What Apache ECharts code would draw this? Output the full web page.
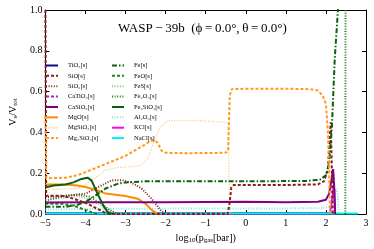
<!DOCTYPE html>
<html><head><meta charset="utf-8">
<script src="https://cdn.jsdelivr.net/npm/echarts@6/dist/echarts.min.js"></script>
<style>html,body{margin:0;padding:0;background:#fff}#c{width:374px;height:249px}</style>
</head><body><div id="c"></div>
<script>
// ---- data (x = log10 p_gas [bar], y = V_s/V_tot) ----
const xTicks = [-5,-4,-3,-2,-1,0,1,2,3];
const yTicks = [0.0,0.2,0.4,0.6,0.8,1.0];
const title = 'WASP\u2009\u2212\u200939b  (\u03d5\u2009=\u20090.0°,\u2009\u03b8\u2009=\u20090.0°)';

const TiO2 = [[-5,0.003],[2.2,0.003],[2.24,0]];
const SiO = [[-5,1.0],[-4.98,0.09],[-4.6,0.09],[-4.3,0.075],[-4,0.055],[-3.7,0.025],[-3.5,0.005],[-3.4,0],[-0.45,0],[-0.4,0.06],[-0.36,0.13],[-0.3,0.142],[1.0,0.142],[1.8,0.145],[1.95,0.16],[2.05,0.22],[2.12,0.45],[2.15,0.2],[2.17,0]];
const SiO2 = [[-5,0.083],[-4.5,0.088],[-4,0.1],[-3.6,0.14],[-3.35,0.165],[-3.1,0.166],[-2.87,0.155],[-2.6,0.125],[-2.35,0.075],[-2.1,0.012],[-2.0,0]];
const CaTiO3 = [[-5,0.001],[2.2,0.001],[2.22,0]];
const CaSiO3 = [[-5,0.056],[-4,0.057],[-2,0.058],[0,0.06],[1,0.058],[1.8,0.06],[2.0,0.07],[2.08,0.1],[2.14,0.17],[2.18,0.22],[2.21,0.12],[2.23,0]];
const MgO = [[-5,0.145],[-4.5,0.145],[-4.2,0.14],[-4,0.132],[-3.7,0.115],[-3.5,0.1],[-3,0.088],[-2.7,0.075],[-2.5,0.05],[-2.35,0.02],[-2.2,0]];
const MgSiO3 = [[-5,0.12],[-4.5,0.122],[-4.1,0.13],[-3.8,0.17],[-3.5,0.215],[-3.2,0.228],[-2.8,0.232],[-2.6,0.24],[-2.45,0.27],[-2.3,0.35],[-2.15,0.42],[-2.0,0.45],[-1.9,0.458],[-1.2,0.458],[-0.5,0.45],[-0.44,0.44],[-0.42,0.2],[-0.4,0]];
const Mg2SiO4 = [[-5,0.48],[-4.98,0.175],[-4.5,0.178],[-4.2,0.19],[-4,0.205],[-3.5,0.245],[-3,0.285],[-2.6,0.33],[-2.4,0.355],[-2.3,0.362],[-2.2,0.35],[-2.1,0.31],[-2.0,0.3],[-1.5,0.298],[-0.5,0.3],[-0.44,0.31],[-0.42,0.45],[-0.4,0.58],[-0.35,0.612],[0,0.614],[1.0,0.614],[1.6,0.612],[1.8,0.605],[1.92,0.58],[2.0,0.54],[2.05,0.4],[2.08,0.2],[2.1,0]];
const Fe = [[-5,0.035],[-4.5,0.035],[-4.2,0.045],[-4,0.06],[-3.75,0.09],[-3.5,0.125],[-3.2,0.148],[-3,0.155],[-2.5,0.16],[0,0.16],[1.5,0.162],[1.85,0.168],[2.0,0.19],[2.08,0.25],[2.15,0.43],[2.22,0.76],[2.3,1.0],[2.35,1.05]];
const FeO = [[-5,0.05],[-4.6,0.05],[-4.3,0.04],[-4,0.02],[-3.8,0.005],[-3.7,0]];
const FeS = [[-5,0.07],[-4.5,0.08],[-4.2,0.085],[-4,0.08],[-3.7,0.05],[-3.4,0.015],[-3.2,0]];
const Fe2O3 = [[-5,0.065],[-4.5,0.09],[-4.2,0.095],[-3.9,0.085],[-3.6,0.05],[-3.4,0.02],[-3.2,0],[0,'-'],[2.485,0],[2.49,1.05]];
const Fe2SiO4 = [[-5,0.13],[-4.8,0.14],[-4.5,0.145],[-4.3,0.155],[-4.1,0.172],[-3.95,0.178],[-3.85,0.165],[-3.7,0.1],[-3.55,0.04],[-3.45,0.01],[-3.35,0]];
const Al2O3 = [[-5,0.022],[-4,0.024],[-3,0.026],[0,0.027],[1.9,0.028],[2.1,0.035],[2.2,0.08],[2.25,0.125],[2.29,0.1],[2.31,0.03],[2.33,0]];
const KCl = [[-5,0.002],[2.1,0.002],[2.16,0.08],[2.2,0.14],[2.23,0]];
const NaCl = [[-5,0.002],[2.8,0.002]];

const names1 = ['TiO₂[s]','SiO[s]','SiO₂[s]','CaTiO₃[s]','CaSiO₃[s]','MgO[s]','MgSiO₃[s]','Mg₂SiO₄[s]'];
const names2 = ['Fe[s]','FeO[s]','FeS[s]','Fe₂O₃[s]','Fe₂SiO₄[s]','Al₂O₃[s]','KCl[s]','NaCl[s]'];

const serif = '"Liberation Serif","DejaVu Serif",serif';
const DASH = [3,2], DOT = [1,1.6], DASHDOT = [5,2,1.5,2];
function s(name, data, color, type, width) {
  return {name, type:'line', data, symbol:'none', showSymbol:false, animation:false, connectNulls:false,
    lineStyle:{color, type, width, cap:'butt'}, itemStyle:{color, opacity:0}, z:2};
}
const series = [
  s('CaTiO₃[s]', CaTiO3, '#9b2fb5', DASH, 2),
  s('KCl[s]', KCl, '#ff00ff', 'solid', 2),
  s('TiO₂[s]', TiO2, '#0a0a8a', 'solid', 2),
  s('NaCl[s]', NaCl, '#00f0f0', 'solid', 2),
  s('Al₂O₃[s]', Al2O3, '#86e3e3', DOT, 2),
  s('FeO[s]', FeO, '#1a8a1a', DASH, 2),
  s('FeS[s]', FeS, '#8fc98f', DOT, 1.5),
  s('Fe₂O₃[s]', Fe2O3, '#1a7a1a', DOT, 2),
  s('MgSiO₃[s]', MgSiO3, '#ffc886', DOT, 1.3),
  s('SiO₂[s]', SiO2, '#8b1c1c', DOT, 2),
  s('MgO[s]', MgO, '#ff8c00', 'solid', 2),
  s('CaSiO₃[s]', CaSiO3, '#800080', 'solid', 2),
  s('SiO[s]', SiO, '#8b1c1c', DASH, 2),
  s('Fe₂SiO₄[s]', Fe2SiO4, '#0b600b', 'solid', 2),
  s('Fe[s]', Fe, '#0b600b', DASHDOT, 2),
  s('Mg₂SiO₄[s]', Mg2SiO4, '#ff9a1a', DASH, 2),
];

const minus = v => String(v).replace('-', '\u2212');
const legendBase = {orient:'vertical', itemWidth:12, itemHeight:6, itemGap:3.37, top:57,
  itemStyle:{opacity:0},
  textStyle:{fontFamily:serif, fontSize:6.5, lineHeight:6, color:'#000', padding:[0,0,0,5]}};

const chart = echarts.init(document.getElementById('c'), null, {renderer:'canvas'});
chart.setOption({
  animation:false,
  backgroundColor:'#fff',
  title:{text:title, left:113, top:17, textStyle:{fontFamily:serif, fontSize:13, fontWeight:'normal', color:'#000'}},
  legend:[
    Object.assign({}, legendBase, {left:40, data:names1}),
    Object.assign({}, legendBase, {left:106, data:names2}),
  ],
  grid:{left:35, right:8, top:10, bottom:30},
  xAxis:[{
    type:'value', min:-5, max:3, interval:1, position:'bottom',
    name:'log{s|10}(p{s|gas}[bar])', nameLocation:'middle', nameGap:18,
    nameTextStyle:{fontFamily:serif, fontSize:10, color:'#000', rich:{s:{fontFamily:serif, fontSize:7, padding:[5,0,0,0], color:'#000'}}},
    axisLine:{onZero:false, lineStyle:{color:'#000', width:1}}, axisTick:{inside:true, length:4, lineStyle:{color:'#000'}},
    axisLabel:{fontFamily:serif, fontSize:10, color:'#000', margin:4, formatter:minus},
    splitLine:{show:false}
  },{
    type:'value', min:-5, max:3, interval:1, position:'top',
    axisLine:{onZero:false, lineStyle:{color:'#000', width:1}}, axisTick:{inside:true, length:4, lineStyle:{color:'#000'}},
    axisLabel:{show:false}, splitLine:{show:false}
  }],
  yAxis:[{
    type:'value', min:0, max:1, interval:0.2, position:'left',
    name:'V{s|s}/V{s|tot}', nameLocation:'middle', nameGap:21,
    nameTextStyle:{fontFamily:serif, fontSize:10, color:'#000', rich:{s:{fontFamily:serif, fontSize:7, padding:[5,0,0,0], color:'#000'}}},
    axisLine:{show:true, onZero:false, lineStyle:{color:'#000', width:1}}, axisTick:{show:true, inside:true, length:4, lineStyle:{color:'#000'}},
    axisLabel:{fontFamily:serif, fontSize:10, color:'#000', margin:3, formatter:v=>v.toFixed(1)},
    splitLine:{show:false}
  },{
    type:'value', min:0, max:1, interval:0.2, position:'right',
    axisLine:{show:true, onZero:false, lineStyle:{color:'#000', width:1}}, axisTick:{show:true, inside:true, length:4, lineStyle:{color:'#000'}},
    axisLabel:{show:false}, splitLine:{show:false}
  }],
  series: series
});
</script></body></html>
